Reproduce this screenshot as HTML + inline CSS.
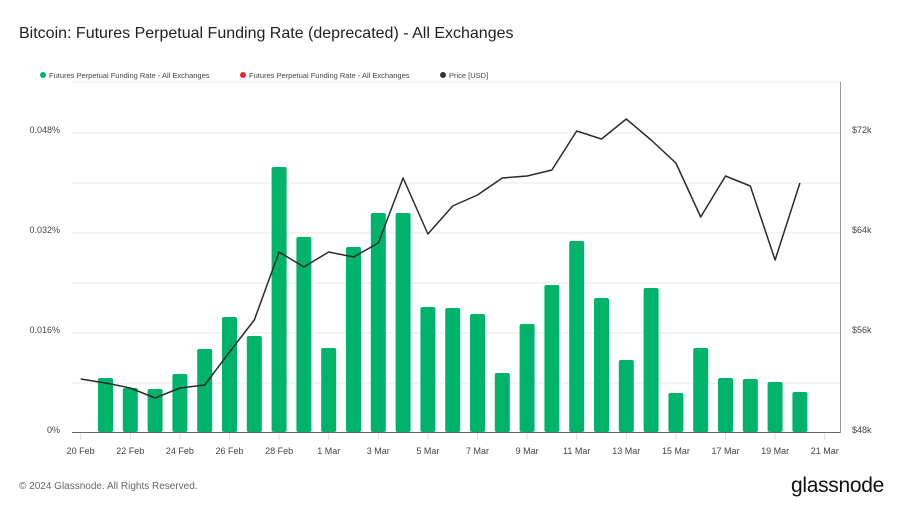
<!DOCTYPE html>
<html><head><meta charset="utf-8"><style>
body{margin:0;background:#fff;font-family:"Liberation Sans",sans-serif}
</style></head><body>
<svg width="904" height="508" viewBox="0 0 904 508" xmlns="http://www.w3.org/2000/svg" font-family="Liberation Sans, sans-serif">
<rect width="904" height="508" fill="#fff"/>
<text x="19" y="38" font-size="16" fill="#222">Bitcoin: Futures Perpetual Funding Rate (deprecated) - All Exchanges</text>
<g font-size="7.5" fill="#444">
<circle cx="43" cy="75" r="3" fill="#00b36b"/><text x="49" y="78">Futures Perpetual Funding Rate - All Exchanges</text>
<circle cx="243" cy="75" r="3" fill="#e8262b"/><text x="249" y="78">Futures Perpetual Funding Rate - All Exchanges</text>
<circle cx="443" cy="75" r="3" fill="#333"/><text x="449" y="78">Price [USD]</text>
</g>
<line x1="72" y1="82" x2="841" y2="82" stroke="#eee"/>
<g stroke="#e8e8e8" stroke-width="1">
<line x1="72" y1="133" x2="841" y2="133"/><line x1="72" y1="183" x2="841" y2="183"/>
<line x1="72" y1="233" x2="841" y2="233"/><line x1="72" y1="283" x2="841" y2="283"/>
<line x1="72" y1="333" x2="841" y2="333"/><line x1="72" y1="383" x2="841" y2="383"/>
</g>
<g font-size="9" fill="#444" text-anchor="end">
<text x="60" y="133">0.048%</text><text x="60" y="233">0.032%</text><text x="60" y="333">0.016%</text><text x="60" y="433">0%</text>
</g>
<g font-size="9" fill="#444">
<text x="852" y="133">$72k</text><text x="852" y="233">$64k</text><text x="852" y="333">$56k</text><text x="852" y="433">$48k</text>
</g>
<g fill="#00b36b" id="bars"></g>
<line x1="72" y1="432.5" x2="841" y2="432.5" stroke="#666"/>
<line x1="840.5" y1="82" x2="840.5" y2="433" stroke="#999"/>
<g id="ticks" stroke="#ddd"></g>
<g id="xl" font-size="9" fill="#444" text-anchor="middle"></g>
<polyline id="price" fill="none" stroke="#2b2b2b" stroke-width="1.5" stroke-linejoin="round"/>
<text x="19" y="489" font-size="10" fill="#666">© 2024 Glassnode. All Rights Reserved.</text>
<text x="884" y="492" font-size="21" fill="#111" text-anchor="end" letter-spacing="-0.3">glassnode</text>
<script>
var ns="http://www.w3.org/2000/svg";
var x0=80.7,d=24.8;
var tops=[378,388,389,374,349,317,336,167,237,348,247,213,213,307,308,314,373,324,285,241,298,360,288,393,348,378,379,382,392];
var b=document.getElementById("bars");
tops.forEach(function(t,i){var r=document.createElementNS(ns,"rect");var cx=x0+(i+1)*d;
r.setAttribute("x",cx-7.5);r.setAttribute("y",t);r.setAttribute("width",15);r.setAttribute("height",432-t);r.setAttribute("rx",2);b.appendChild(r);});
var p=[379,383,388,398,388,385,352,320,252,267,252,257,243,178,234,206,195,178,176,170,131,139,119,140,163,217,176,186,260,183];
document.getElementById("price").setAttribute("points",p.map(function(y,i){return (x0+i*d).toFixed(1)+","+y}).join(" "));
var labs=["20 Feb","22 Feb","24 Feb","26 Feb","28 Feb","1 Mar","3 Mar","5 Mar","7 Mar","9 Mar","11 Mar","13 Mar","15 Mar","17 Mar","19 Mar","21 Mar"];
var xl=document.getElementById("xl"),tk=document.getElementById("ticks");
labs.forEach(function(l,i){var x=x0+i*2*d;var t=document.createElementNS(ns,"text");t.setAttribute("x",x);t.setAttribute("y",454);t.textContent=l;xl.appendChild(t);
var ln=document.createElementNS(ns,"line");ln.setAttribute("x1",x);ln.setAttribute("x2",x);ln.setAttribute("y1",433);ln.setAttribute("y2",440);tk.appendChild(ln);});
</script>
</svg>
</body></html>
